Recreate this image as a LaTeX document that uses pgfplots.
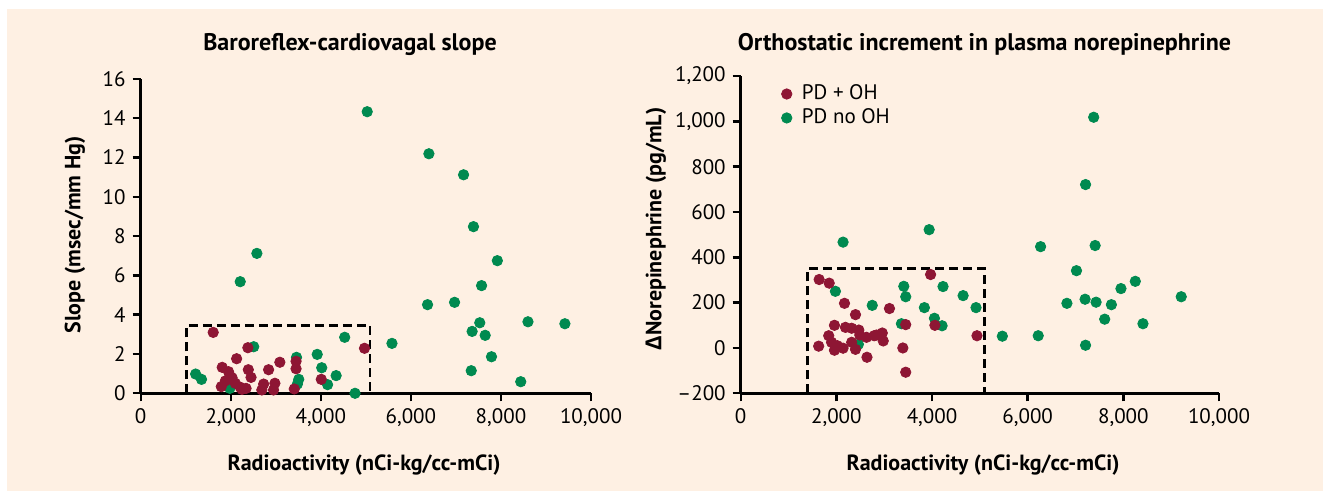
\documentclass[border=0pt]{standalone}
\usepackage{pgfplots}
\pgfplotsset{compat=1.18}
\usepackage{fontspec}
\setmainfont{PT Sans}
\newfontfamily\greekfont{Open Sans}
\definecolor{bgbeige}{RGB}{254,240,227}
\definecolor{ohred}{RGB}{142,22,52}
\definecolor{nogreen}{RGB}{0,138,80}
\pgfplotsset{
  common/.style={
    scale only axis,
    axis lines=left,
    axis line style={-, line width=1.3pt, black},
    tick align=outside,
    major tick length=4pt,
    tick style={line width=1.2pt, black},
    enlargelimits=false,
    clip=false,
    /pgf/number format/assume math mode=true,
    /pgf/number format/1000 sep={,},
    ticklabel style={font=\fontsize{10.5}{12}\selectfont},
    scaled ticks=false,
  },
  redmk/.style={only marks, mark=*, mark size=2.6pt, color=ohred},
  greenmk/.style={only marks, mark=*, mark size=2.6pt, color=nogreen},
}
\begin{document}
\begin{tikzpicture}
\useasboundingbox (0pt,0pt) rectangle (661.5pt,-245.5pt);
\fill[white] (0pt,0pt) rectangle (661.5pt,-245.5pt);
\fill[bgbeige] (3.5pt,-4.5pt) rectangle (661.5pt,-245.5pt);

% ---------- left panel ----------
\begin{axis}[common,
  at={(70.35pt,-196.65pt)}, anchor=south west,
  width=225.15pt, height=157.2pt,
  xmin=0, xmax=10000, ymin=0, ymax=16,
  xtick={0,2000,4000,6000,8000,10000},
  ytick={0,2,4,6,8,10,12,14,16},
]
\addplot[black, line width=1.3pt, dash pattern=on 4.5pt off 2.5pt] coordinates {(1015,0) (1015,3.44) (5095,3.44) (5095,0)};
\addplot[greenmk] coordinates {
(5030,14.33)(6400,12.19)(7170,11.12)(7390,8.48)(2580,7.12)(7920,6.75)(2210,5.68)(7570,5.48)
(6370,4.51)(6970,4.63)(7530,3.59)(8600,3.64)(9420,3.54)(7360,3.15)(7650,2.95)(5580,2.54)
(4530,2.85)(7790,1.86)(7340,1.15)(8440,0.59)(2510,2.37)(3460,1.83)(3920,1.98)(4020,1.30)
(4340,0.90)(3510,0.71)(3480,0.47)(4150,0.44)(4760,0.0)(1220,0.98)(1350,0.71)(1980,0.25)
};
\addplot[redmk] coordinates {
(1610,3.10)(2380,2.32)(2130,1.76)(1810,1.32)(1950,1.10)(2390,1.20)(2840,1.20)(3090,1.58)
(3450,1.63)(3450,1.25)(2450,0.81)(2030,0.79)(1880,0.63)(1790,0.34)(2100,0.51)(2210,0.31)
(2340,0.25)(2250,0.20)(2690,0.17)(2730,0.47)(2950,0.17)(2980,0.51)(3410,0.22)(4010,0.71)
(4970,2.29)(1990,0.85)
};
\end{axis}

% ---------- right panel ----------
\begin{axis}[common,
  at={(370.35pt,-196.65pt)}, anchor=south west,
  width=239.15pt, height=158.65pt,
  xmin=0, xmax=10000, ymin=-200, ymax=1200,
  xtick={0,2000,4000,6000,8000,10000},
  ytick={-200,0,200,400,600,800,1000,1200},
  yticklabels={{--200},0,200,400,600,800,{1,000},{1,200}},
  legend cell align=left,
  legend style={at={(0.072,0.998)}, anchor=north west, draw=none, fill=none,
    font=\fontsize{10.5}{12}\selectfont, row sep=-1pt, column sep=3pt},
]
\addlegendimage{redmk}
\addlegendentry{PD + OH}
\addlegendimage{greenmk}
\addlegendentry{PD no OH}
\addplot[black, line width=1.3pt, dash pattern=on 4.5pt off 2.5pt, forget plot] coordinates {(1400,-200) (1400,350) (5100,350) (5100,-200)};
\addplot[greenmk, forget plot] coordinates {
(7380,1018)(7210,721)(3940,522)(2140,467)(6270,447)(7410,452)(7020,341)(1980,250)
(3410,272)(3450,226)(4230,271)(4650,231)(8250,294)(7950,262)(9210,226)(6820,197)
(7200,215)(7430,202)(7750,191)(7610,127)(8410,107)(2750,188)(3840,178)(4920,178)
(4050,131)(4210,98)(3360,107)(5470,52)(6220,54)(7210,12)(2460,16)
};
\addplot[redmk, forget plot] coordinates {
(3970,324)(1640,302)(1850,286)(2170,197)(3110,174)(2400,147)(1960,100)(2190,91)
(2320,87)(2470,79)(1840,54)(1900,25)(2020,10)(1630,8)(1960,-10)(2140,-1)
(2400,-6)(2320,25)(2640,-41)(2490,57)(2630,47)(2790,54)(2960,66)(2840,57)
(2980,31)(3450,103)(4060,100)(3390,0)(3450,-107)(4940,54)
};
\end{axis}

% ---------- titles and labels ----------
\node[anchor=base, font=\fontsize{12}{14}\selectfont\bfseries] at (175pt,-25.5pt) {Baroreflex-cardiovagal slope};
\node[anchor=base, font=\fontsize{12}{14}\selectfont\bfseries] at (492.25pt,-25.5pt) {Orthostatic increment in plasma norepinephrine};
\node[anchor=base, font=\fontsize{11}{13}\selectfont\bfseries] at (182pt,-235.5pt) {Radioactivity (nCi-kg/cc-mCi)};
\node[anchor=base, font=\fontsize{11}{13}\selectfont\bfseries] at (491.5pt,-235.5pt) {Radioactivity (nCi-kg/cc-mCi)};
\node[rotate=90, font=\fontsize{11}{13}\selectfont\bfseries] at (37.5pt,-117.5pt) {Slope (msec/mm Hg)};
\node[rotate=90, font=\fontsize{11}{13}\selectfont\bfseries] at (328pt,-114.5pt) {{\greekfont\bfseries Δ}Norepinephrine (pg/mL)};
\end{tikzpicture}
\end{document}
